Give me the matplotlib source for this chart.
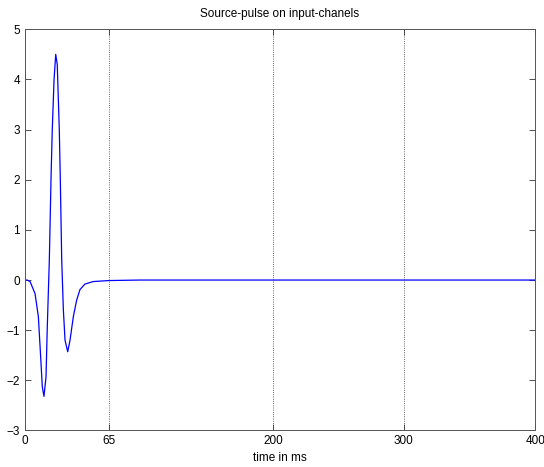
import numpy as np
import matplotlib.pyplot as plt

plt.rcParams['font.family'] = ['Liberation Sans', 'DejaVu Sans']

# pulse (ms, amplitude)
t_ms = [0, 2, 4.2, 8.1, 10.7, 12.5, 13.8, 15.1, 16.7, 17.7, 19.3, 20.6, 21.6, 23.0,
        24.3, 25.5, 27.1, 27.9, 29.0, 30.3, 31.6, 33.7, 35.5, 38.1, 40.7, 43.3,
        47.2, 53.7, 66, 90, 400]
amp = [0, 0, -0.03, -0.27, -0.73, -1.53, -2.13, -2.32, -1.93, -0.93, 0.4, 2.0, 3.0, 4.0,
       4.5, 4.3, 3.0, 2.0, 0.4, -0.6, -1.2, -1.43, -1.2, -0.73, -0.4, -0.19,
       -0.08, -0.03, -0.01, 0, 0]

# tick marks sit where the reference draws them; labels as printed
xtick_pos = [0, 66, 194.5, 297, 400]
xtick_labels = ['0', '65', '200', '300', '400']
yticks = list(range(-3, 6))

fig = plt.figure(figsize=(5.44, 4.67), dpi=100)
ax = fig.add_axes([0.0454, 0.0782, 0.9386, 0.859])

ax.plot(t_ms, amp, color='#0000ff', lw=0.9)

ax.set_xlim(0, 400)
ax.set_ylim(-3, 5)
ax.set_xticks(xtick_pos)
ax.set_xticklabels(xtick_labels)
ax.set_yticks(yticks)
ax.tick_params(direction='in', length=4, width=0.6, labelsize=8.5, top=True, right=True,
               colors='#333333', labelcolor='black')
ax.xaxis.grid(True, linestyle=':', color='#333333', lw=0.6)
for s in ax.spines.values():
    s.set_linewidth(0.7)
    s.set_color('#555555')

ax.set_title('Source-pulse on input-chanels', fontsize=8.5, pad=9)
ax.set_xlabel('time in ms', fontsize=8.5, labelpad=3)

fig.savefig('out.png', dpi=100)
